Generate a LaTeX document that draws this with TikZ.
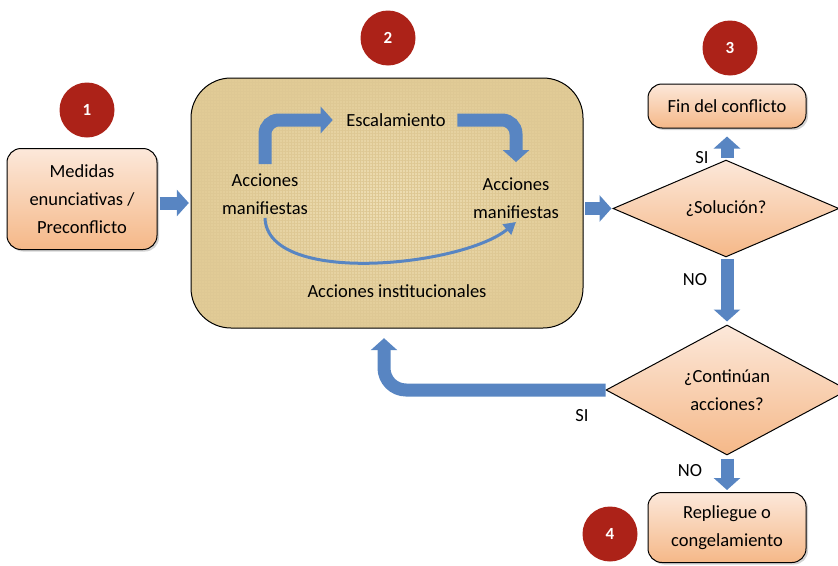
\documentclass[tikz,border=0pt]{standalone}
\usepackage{fontspec}
\setmainfont{Carlito}
\usetikzlibrary{arrows.meta,shapes.geometric,shadows,patterns.meta}

\definecolor{flowblue}{RGB}{88,133,194}
\definecolor{badgered}{RGB}{172,34,24}
\definecolor{peachtop}{RGB}{252,232,218}
\definecolor{peachbot}{RGB}{245,184,136}
\definecolor{papyrus}{RGB}{225,203,150}
\definecolor{papyruslight}{RGB}{238,222,180}
\definecolor{papyrusdark}{RGB}{222,200,148}

\tikzset{
  stepbox/.style={draw,line width=1pt,rounded corners=14pt,top color=peachtop,bottom color=peachbot,
    align=center,drop shadow={shadow xshift=2pt,shadow yshift=-2pt,opacity=.35}},
  decision/.style={diamond,draw,line width=1pt,top color=peachtop,bottom color=peachbot,align=center,inner sep=0pt},
  badge/.style={circle,fill=badgered,text=white,font=\bfseries\fontsize{17}{20}\selectfont,minimum size=55pt},
  blockarrow/.style={draw=flowblue,line width=13pt,-{Triangle[width=26pt,length=12pt]}},
  answer/.style={font=\fontsize{18.5}{22}\selectfont}
}

\begin{document}
\begin{tikzpicture}[x=1pt,y=-1pt,font=\fontsize{18.5}{28}\selectfont]
  \useasboundingbox (0,0) rectangle (838,565);
  \clip (0,0) rectangle (838,565);

  % stages
  \node[stepbox,minimum width=150pt,minimum height=101pt] (prec) at (82,199) {Medidas\\enunciativas /\\Preconflicto};
  \node[rounded corners=40pt,inner color=papyruslight,outer color=papyrus,minimum width=392pt,minimum height=250pt,
    postaction={pattern={Hatch[angle=0,distance=3pt,line width=.4pt]},pattern color=papyrusdark},
    postaction={draw,line width=1pt}] (arena) at (387,203) {};
  \node[decision,minimum width=226pt,minimum height=77pt] (sol) at (726,208.5) {¿Solución?};
  \node[stepbox,minimum width=158pt,minimum height=44pt] (fin) at (727,106) {Fin del conflicto};
  \node[decision,minimum width=242pt,minimum height=130pt] (cont) at (727,390) {¿Continúan\\acciones?};
  \node[stepbox,minimum width=158pt,minimum height=70pt] (rep) at (727,527.5) {Repliegue o\\congelamiento};

  % badges
  \node[badge] (b1) at (87,110) {1};
  \node[badge] (b2) at (388,38) {2};
  \node[badge] (b3) at (730,48) {3};
  \node[badge] (b4) at (610,534) {4};

  % inside the arena
  \node (esc) at (396,120) {Escalamiento};
  \node[align=center] (am1) at (265,194) {Acciones\\manifiestas};
  \node[align=center] (am2) at (516,198) {Acciones\\manifiestas};
  \node (inst) at (397,291) {Acciones institucionales};
  \draw[blockarrow,rounded corners=14pt,shorten <=6pt,shorten >=10pt] (am1.north) |- (esc.west);
  \draw[blockarrow,rounded corners=14pt,shorten <=8pt,shorten >=12pt] (esc.east) -| (am2.north);
  \draw[flowblue,line width=3pt,-{Triangle[width=13pt,length=12pt]}] (am1.south) to[out=-88,in=-140,looseness=.7] (am2.south);

  % flow
  \draw[blockarrow,shorten <=2pt,shorten >=2pt] (prec.east |- 0,203) -- (arena.west |- 0,203);
  \draw[blockarrow,shorten <=2pt,shorten >=1pt] (arena.east |- sol.west) -- (sol.west);
  \draw[blockarrow,shorten <=2pt,shorten >=8pt] (sol.north -| fin.south) -- (fin.south);
  \draw[blockarrow,shorten <=2pt,shorten >=3pt] (sol.south -| cont.north) -- (cont.north);
  \draw[blockarrow,rounded corners=22pt,shorten >=10pt] (cont.west) -| ([xshift=-3pt]arena.south);
  \draw[blockarrow,shorten <=3pt,shorten >=2pt] (cont.south) -- (rep.north);

  % answers
  \node[answer] (si1) at (702,158) {SI};
  \node[answer] (no1) at (695,280) {NO};
  \node[answer] (si2) at (582,416) {SI};
  \node[answer] (no2) at (690,471) {NO};
\end{tikzpicture}
\end{document}
